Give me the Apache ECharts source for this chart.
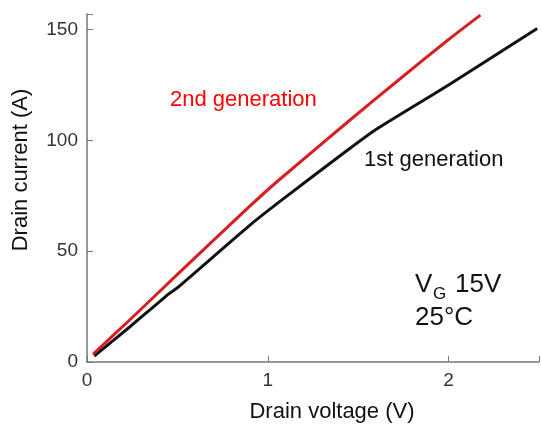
<!DOCTYPE html>
<html>
<head>
<meta charset="utf-8">
<script src="https://cdn.jsdelivr.net/npm/echarts@6/dist/echarts.min.js"></script>
<style>
  html, body { margin: 0; padding: 0; background: #fff; }
  #chart { width: 542px; height: 425px; }
</style>
</head>
<body>
<div id="chart"></div>
<script>
// drain voltage (V) / drain current (A)
const gen2Volt = [0.033, 0.23, 0.5, 0.89, 1.06, 1.445, 1.72, 2.0, 2.176];
const gen2Curr = [3.5, 18.5, 39.5, 69.5, 82, 108.5, 127, 145.5, 156.5];
const gen1Volt = [0.04, 0.236, 0.456, 0.5, 0.89, 1.06, 1.44, 1.6, 2.0, 2.49];
const gen1Curr = [2.7, 15.8, 31, 33.5, 61, 72, 95.5, 105, 125, 150.5];
const xTicks = [0, 1, 2];
const yTicks = [0, 50, 100, 150];

const font = "'Liberation Sans', Arial, sans-serif";
const chart = echarts.init(document.getElementById("chart"));

const pairs = (xs, ys) => xs.map((x, i) => [x, ys[i]]);

const axisCommon = {
  axisLine: { lineStyle: { color: "#777", width: 1.5 } },
  axisTick: { inside: true, length: 6, lineStyle: { color: "#777" } },
  splitLine: { show: false },
  axisLabel: { color: "#333", fontSize: 19, fontFamily: font, margin: 9 },
};

function txt(text, x, y, size, color, extra) {
  return Object.assign({
    type: "text",
    x: x,
    y: y,
    style: {
      text: text,
      fill: color,
      font: size + "px " + font,
      textAlign: "left",
      textVerticalAlign: "middle",
      verticalAlign: "middle",
    },
  }, extra || {});
}

const option = {
  backgroundColor: "#fff",
  animation: false,
  grid: { left: 87, right: 0, top: 14, bottom: 63, containLabel: false },
  xAxis: Object.assign({}, axisCommon, {
    type: "value",
    min: 0,
    max: 2.5,
    interval: 1,
    axisLabel: Object.assign({}, axisCommon.axisLabel, {
      formatter: (v) => (xTicks.indexOf(v) >= 0 ? String(v) : ""),
    }),
  }),
  yAxis: Object.assign({}, axisCommon, {
    type: "value",
    min: 0,
    max: 157,
    interval: 50,
    axisLabel: Object.assign({}, axisCommon.axisLabel, {
      formatter: (v) => (yTicks.indexOf(v) >= 0 ? String(v) : ""),
    }),
  }),
  series: [
    {
      name: "1st generation",
      type: "line",
      data: pairs(gen1Volt, gen1Curr),
      smooth: 0.2,
      symbol: "none",
      lineStyle: { color: "#111", width: 3 },
    },
    {
      name: "2nd generation",
      type: "line",
      data: pairs(gen2Volt, gen2Curr),
      smooth: 0.2,
      symbol: "none",
      lineStyle: { color: "#d81e1e", width: 3 },
    },
  ],
  graphic: [
    txt("2nd generation", 170, 100, 22, "#ff0000"),
    txt("1st generation", 364, 160, 22, "#111"),
    txt("V", 415, 285, 26, "#111"),
    txt("G", 433, 294, 17, "#111"),
    txt("15V", 455, 285, 26, "#111"),
    txt("25°C", 415, 318, 26, "#111"),
    txt("Drain voltage (V)", 332, 412, 22, "#111", {}),
    txt("Drain current (A)", 21, 170, 22, "#111", { rotation: Math.PI / 2 }),
  ],
};
// centre the two axis names
option.graphic[6].style.textAlign = "center";
option.graphic[7].style.textAlign = "center";

chart.setOption(option);
</script>
</body>
</html>
